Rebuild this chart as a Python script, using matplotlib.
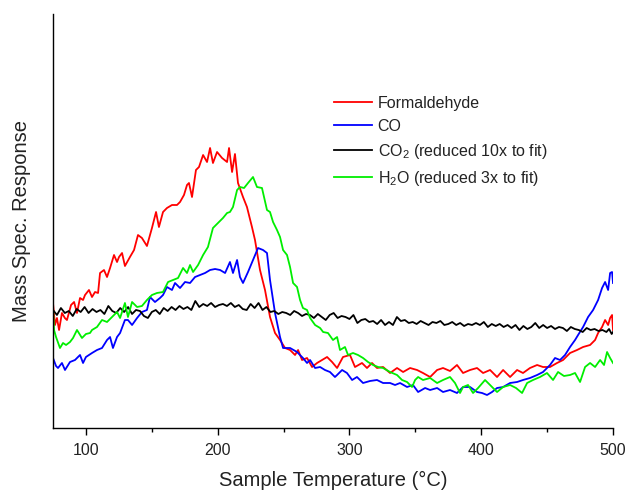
import matplotlib
matplotlib.use("Agg")
import matplotlib.pyplot as plt
from matplotlib.ticker import MultipleLocator, NullLocator

plt.rcParams['font.family'] = ['Liberation Sans', 'DejaVu Sans']
plt.rcParams['mathtext.default'] = 'regular'

# ---- data (temperature in °C, response in arbitrary units) ----
form_T = [75, 76.5, 78, 79.6, 81.8, 84, 85.6, 88.7, 91, 93.2, 95.5, 97.8, 99.3, 102.3, 104.6, 106.9, 109.2,
          110.7, 113.7, 116, 118.3, 121.3, 123.6, 125.1, 127.4, 129.6, 133.4, 136.5, 139.5, 142.5, 146.3,
          150.1, 153.2, 155.4, 158.5, 161.5, 165.3, 169.1, 171.4, 174.4, 176.7, 178.2, 180.5, 183.5, 185.8,
          188.9, 191.9, 194.2, 196.4, 199.5, 203.3, 207.1, 208.6, 210.9, 213.1, 215.4, 219.2, 222.2, 226,
          228.3, 232.1, 235.9, 239.7, 243.5, 247.3, 251.1, 254.9, 258.7, 261, 264, 267.8, 271.6, 275.4,
          279.2, 283, 286.8, 290.6, 295.1, 300.4, 304.2, 309.5, 313.3, 317.1, 320.9, 325.5, 330.8, 336.1,
          340.7, 346, 351.3, 355.8, 361.2, 366.5, 371, 376.3, 381.6, 386.2, 391.5, 396.8, 401.4, 406.7, 412,
          416.6, 421.9, 427.2, 431.7, 437, 442.4, 446.9, 452.2, 457.5, 462.1, 467.4, 472.7, 477.3, 482.6,
          486.4, 488.7, 491.7, 494, 496.3, 497.8, 499.3, 500]
form_v = [125, 103, 110, 98, 115, 110, 108, 123, 126, 115, 130, 128, 133, 138, 131, 136, 135,
          155, 158, 151, 160, 173, 166, 171, 175, 162, 171, 178, 193, 190, 182,
          200, 216, 201, 216, 220, 223, 223, 226, 233, 243, 245, 231, 258, 261,
          273, 266, 280, 265, 276, 270, 266, 280, 256, 274, 245, 231, 221, 201,
          188, 158, 138, 111, 95, 88, 80, 78, 73, 78, 68, 70, 61, 65,
          68, 71, 66, 60, 71, 73, 61, 65, 60, 65, 60, 61, 55, 60,
          56, 60, 58, 55, 51, 58, 60, 57, 63, 55, 58, 60, 55, 58, 51,
          58, 51, 58, 55, 60, 63, 61, 61, 65, 68, 75, 78, 81, 83,
          88, 95, 101, 108, 103, 110, 113, 98]

co_T = [75, 77.3, 78.8, 81.8, 84.1, 87.9, 91.7, 95.5, 97.8, 100, 104.6, 108.4, 112.2, 116, 118.3, 120.5,
        123.6, 125.9, 129.6, 131.9, 135, 138.8, 142.5, 146.3, 148.6, 152.4, 156.2, 158.5, 161.5, 165.3,
        167.6, 171.4, 175.2, 179, 182.8, 186.6, 190.4, 194.2, 198, 201.8, 205.6, 209.3, 211.6, 214.7,
        216.9, 219.2, 223, 226.8, 230.6, 234.4, 237.4, 239.7, 243.5, 247.3, 249.6, 254.9, 260.2, 264.7,
        267.8, 270.1, 273.9, 277.7, 281.4, 285.2, 289, 290.6, 294.4, 298.1, 302, 305.7, 310.3, 315.6,
        320.9, 325.5, 330.8, 334.6, 338.4, 343.7, 348.2, 352.1, 357.4, 361.2, 366.5, 371, 376.3, 381.6,
        386.2, 391.5, 396.8, 400.6, 404.4, 408.2, 412, 416.6, 421.9, 427.2, 431.7, 437, 442.4, 446.9,
        452.2, 456, 459.8, 463.6, 467.4, 471.2, 473.5, 477.3, 481.1, 484.9, 488.7, 491.7, 494, 496.3,
        497.8, 499.3, 500]
co_v = [70, 62, 60, 65, 58, 66, 68, 73, 65, 71, 75, 78, 80, 88, 91, 80,
        91, 95, 108, 108, 103, 110, 116, 118, 131, 126, 130, 133, 141, 138,
        145, 140, 146, 145, 151, 153, 155, 158, 159, 158, 155, 166, 155, 168,
        151, 145, 156, 168, 180, 178, 175, 148, 115, 91, 80, 80, 76, 70,
        65, 68, 60, 61, 58, 56, 51, 53, 58, 55, 48, 51, 45, 47,
        48, 45, 45, 43, 45, 41, 43, 36, 40, 38, 40, 36, 38, 35,
        41, 41, 36, 35, 33, 36, 40, 41, 45, 46, 48, 50, 53, 56,
        63, 70, 68, 73, 81, 88, 93, 101, 111, 118, 128, 140, 146, 138,
        155, 156, 145]

co2_T = [75, 78, 81, 84, 87, 90, 93, 96, 99, 102, 105, 108, 111, 114, 117, 120, 123, 126, 129, 132,
         135, 138, 141, 144, 147, 150, 153, 156, 159, 162, 165, 168, 171, 174, 177, 180, 183, 186, 189,
         192, 195, 198, 201, 204, 207, 210, 213, 216, 219, 222, 225, 228, 231, 234, 237, 240, 243, 246,
         249, 252, 255, 258, 261, 264, 267, 270, 273, 276, 279, 282, 285, 288, 291, 294, 297, 300, 303,
         306, 309, 312, 315, 318, 321, 324, 327, 330, 333, 336, 339, 342, 345, 348, 351, 354, 357, 360,
         363, 366, 369, 372, 375, 378, 381, 384, 387, 390, 393, 396, 399, 402, 405, 408, 411, 414, 417,
         420, 423, 426, 429, 432, 435, 438, 441, 444, 447, 450, 453, 456, 459, 462, 465, 468, 471, 474,
         477, 480, 483, 486, 489, 492, 495, 497, 499, 500]
co2_v = [118, 113, 120, 115, 117, 112, 119, 116, 121, 115, 119, 116, 118, 114, 122, 117, 115, 120,
         116, 121, 114, 118, 117, 112, 110, 116, 118, 114, 120, 117, 121, 118, 122, 119, 121, 118,
         127, 121, 124, 122, 125, 121, 123, 124, 122, 125, 121, 123, 119, 118, 124, 120, 125, 118,
         121, 116, 117, 114, 116, 115, 113, 117, 115, 112, 114, 113, 110, 114, 111, 108, 113, 115,
         110, 112, 111, 109, 113, 105, 108, 109, 106, 107, 104, 108, 103, 106, 103, 111, 107, 108,
         105, 106, 104, 107, 105, 103, 106, 105, 107, 103, 104, 106, 103, 105, 102, 104, 103, 105,
         103, 106, 101, 104, 102, 104, 101, 103, 100, 103, 98, 102, 99, 101, 105, 100, 103, 100,
         102, 99, 101, 100, 97, 101, 99, 98, 96, 100, 98, 99, 97, 98, 96, 99, 94, 96]

h2o_T = [75, 75.8, 77.3, 80.3, 82.6, 84.9, 87.9, 90.2, 93.2, 97, 100, 103.1, 104.6, 108.4, 112.2, 116,
         119.8, 123.6, 125.9, 129.6, 131.9, 135, 138.8, 142.5, 146.3, 150.1, 153.9, 158.5, 162.3, 166.1,
         169.9, 173.7, 176.7, 179, 181.3, 185.1, 188.9, 192.6, 196.4, 200.2, 204, 207.1, 209.3, 211.6,
         214.7, 216.9, 220, 223, 226.8, 229.8, 233.6, 237.4, 239.7, 242, 245, 247.3, 249.6, 252.6, 254.9,
         257.2, 260.2, 262.5, 264.7, 267.8, 270.1, 273.9, 277.7, 280, 283.7, 287.5, 290.6, 292.8, 296.6,
         298.9, 302.7, 306.5, 310.3, 314.1, 317.9, 321.7, 325.5, 330.8, 336.1, 339.9, 343.7, 347.5, 349.8,
         352.1, 355.8, 361.2, 366.5, 371, 376.3, 380.1, 383.9, 386.2, 390, 393.8, 397.6, 402.9, 406.7,
         412, 416.6, 421.9, 426.4, 431, 434.8, 439.3, 444.6, 449.9, 454.5, 458.3, 462.8, 467.4, 471.2,
         475, 478.8, 482.6, 486.4, 490.2, 493.2, 495.5, 497.8, 500]
h2o_v = [120, 98, 91, 80, 85, 83, 86, 90, 98, 90, 94, 95, 98, 101, 108, 106,
         111, 116, 110, 125, 111, 126, 121, 122, 128, 133, 135, 136, 146, 148,
         150, 160, 155, 163, 156, 163, 173, 181, 200, 205, 210, 215, 216, 221,
         238, 241, 240, 245, 251, 241, 240, 218, 216, 206, 198, 191, 178, 173, 161,
         145, 141, 128, 120, 118, 110, 103, 100, 96, 95, 88, 91, 78, 81,
         73, 75, 73, 70, 66, 63, 61, 60, 56, 53, 48, 46, 41, 48,
         51, 48, 50, 45, 48, 51, 45, 35, 41, 43, 35, 40, 48, 43,
         36, 41, 43, 40, 35, 45, 48, 51, 55, 48, 56, 52, 53, 55,
         46, 61, 65, 61, 68, 63, 76, 70, 65]

labels = ["Formaldehyde", "CO", "CO$_2$ (reduced 10x to fit)", "H$_2$O (reduced 3x to fit)"]
colors = ["#ff0000", "#0000ff", "#000000", "#00ee00"]
x_ticks = [100, 200, 300, 400, 500]

fig = plt.figure(figsize=(6.29, 4.90), dpi=100)
ax = fig.add_axes([53/629, 62/490, 560/629, 414/490])

series = [(form_T, form_v), (co_T, co_v), (co2_T, co2_v), (h2o_T, h2o_v)]
for (t, v), lab, c in zip(series, labels, colors):
    ax.plot(t, v, color=c, lw=1.3, label=lab)

ax.set_xlim(75, 500)
ax.set_ylim(0, 414)
ax.set_xticks(x_ticks)
ax.xaxis.set_minor_locator(MultipleLocator(50))
ax.yaxis.set_major_locator(NullLocator())
ax.tick_params(axis='x', which='major', direction='out', length=5, width=1, labelsize=11.5, pad=6,
               labelcolor='#222222')
ax.tick_params(axis='x', which='minor', direction='out', length=3, width=1)
for s in ['top', 'right']:
    ax.spines[s].set_visible(False)
for s in ['left', 'bottom']:
    ax.spines[s].set_linewidth(1.0)

ax.set_xlabel("Sample Temperature (°C)", fontsize=14.5, labelpad=9, color='#222222')
ax.set_ylabel("Mass Spec. Response", fontsize=14.5, labelpad=16, color='#222222')

leg = ax.legend(loc='upper left', bbox_to_anchor=(0.49, 0.818), frameon=False, fontsize=11.5,
                handlelength=2.4, handletextpad=0.35, labelspacing=0.5, borderaxespad=0)
for txt in leg.get_texts():
    txt.set_color('#222222')

fig.savefig("out.png", dpi=100)
